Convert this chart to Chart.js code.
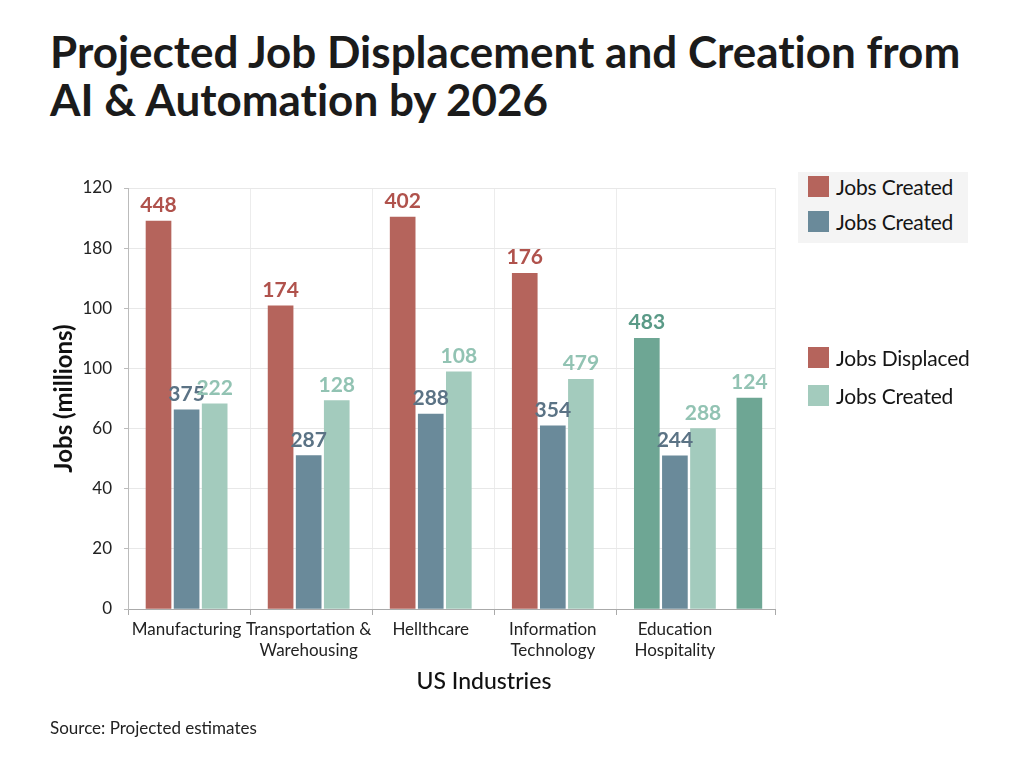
<!DOCTYPE html>
<html>
<head>
<meta charset="utf-8">
<script src="https://cdn.jsdelivr.net/npm/chart.js@4"></script>
<style>
  html, body { margin: 0; padding: 0; background: #fff; }
  body { width: 1024px; height: 768px; position: relative; overflow: hidden; font-family: Lato, "Noto Sans", sans-serif; color: #1a1a1a; }
  #chart { position: absolute; left: 0; top: 0; }
  h1 { position: absolute; left: 50px; top: 27px; margin: 0; font-size: 44px; line-height: 48px; font-weight: 700; color: #1b1b1b; white-space: nowrap; font-variant-ligatures: none; }
  .source { position: absolute; left: 50px; top: 717px; font-size: 17px; color: #222; }
  .xtitle { position: absolute; left: 384px; width: 200px; top: 666px; text-align: center; font-size: 23px; font-weight: 500; color: #111; }
  .legend { position: absolute; left: 798px; width: 170px; padding-left: 10px; box-sizing: border-box; white-space: nowrap; }
  .legend.boxed { background: #f4f4f4; top: 172px; height: 71px; }
  .legend.plain { top: 343px; width: 200px; }
  .item { height: 28px; margin-bottom: 10px; display: flex; align-items: center; font-size: 21px; color: #151515; letter-spacing: -0.2px; }
  .legend.boxed .item { margin-bottom: 7px; }
  .sw { width: 21px; height: 21px; margin-right: 7px; flex: none; }
</style>
</head>
<body>
<h1>Projected Job Displacement and Creation from<br>AI &amp; Automation by 2026</h1>
<canvas id="chart" width="1024" height="768"></canvas>
<div class="legend boxed">
  <div class="item"><span class="sw" style="background:#b5645c"></span>Jobs Created</div>
  <div class="item"><span class="sw" style="background:#6a8a9a"></span>Jobs Created</div>
</div>
<div class="legend plain">
  <div class="item"><span class="sw" style="background:#b5645c"></span>Jobs Displaced</div>
  <div class="item"><span class="sw" style="background:#a3cbbd"></span>Jobs Created</div>
</div>
<div class="xtitle">US Industries</div>
<div class="source">Source: Projected estimates</div>

<script>
// Catégories (axe X)
const categories = ['Manufacturing', ['Transportation &', 'Warehousing'], 'Hellthcare', ['Information', 'Technology'], ['Education', 'Hospitality']];

// Libellés de l'axe Y tels qu'affichés (0 -> 140 par pas de 20)
const yTickLabels = ['0', '20', '40', '60', '100', '100', '180', '120'];

// Valeurs (hauteur des barres, échelle 0-140)
const displaced     = [129.0, 100.8, 130.3, 111.6, 90.0];
const createdDark   = [66.2, 51.0, 64.8, 60.9, 50.9];
const createdLight  = [68.2, 69.3, 78.9, 76.4, 60.0];
const extraEdu      = [null, null, null, null, 70.1];

// Nombres écrits au-dessus des barres
const displacedText = ['448', '174', '402', '176', '483'];
const darkText      = ['375', '287', '288', '354', '244'];
const lightText     = ['222', '128', '108', '479', '288'];
const extraText     = ['', '', '', '', '124'];

const RED = '#b5645c', DARK = '#6a8a9a', LIGHT = '#a3cbbd', TEAL = '#6ea694';

// Position des barres dans chaque groupe (en unités de catégorie)
const groupMid = 0.48, slot = 0.23, extraOffset = 1.09;
const xMax = 5.3;

function points(values, offset) {
  return values.map((v, i) => v === null ? null : { x: i + groupMid + offset, y: v }).filter(p => p);
}

const datasets = [
  {
    data: points(displaced, -slot),
    backgroundColor: displaced.map((_, i) => i === 4 ? TEAL : RED),
    valueText: displacedText,
    textColor: displaced.map((_, i) => i === 4 ? '#5a9a87' : '#b0524c')
  },
  {
    data: points(createdDark, 0),
    backgroundColor: DARK,
    valueText: darkText,
    textColor: createdDark.map(() => '#5b7385')
  },
  {
    data: points(createdLight, slot),
    backgroundColor: LIGHT,
    valueText: lightText,
    textColor: createdLight.map(() => '#92c3b3')
  },
  {
    data: points(extraEdu, extraOffset - groupMid),
    backgroundColor: TEAL,
    valueText: extraText.filter(t => t),
    textColor: ['#92c3b3']
  }
];

// Position des libellés : centre des barres de chaque groupe
const labelPos = categories.map((_, i) => {
  const xs = datasets.flatMap(d => d.data.filter(p => Math.floor(p.x) === i).map(p => p.x));
  return xs.reduce((a, b) => a + b, 0) / xs.length;
});

// Nombres au-dessus des barres
const valueLabels = {
  id: 'valueLabels',
  afterDatasetsDraw(chart) {
    const ctx = chart.ctx;
    ctx.save();
    ctx.font = 'bold 21px Lato, "Noto Sans", sans-serif';
    ctx.textAlign = 'center';
    ctx.textBaseline = 'alphabetic';
    chart.data.datasets.forEach((ds, di) => {
      chart.getDatasetMeta(di).data.forEach((bar, j) => {
        ctx.fillStyle = ds.textColor[j];
        ctx.fillText(ds.valueText[j], bar.x, bar.y - 9);
      });
    });
    ctx.restore();
  }
};

new Chart(document.getElementById('chart'), {
  type: 'bar',
  data: { datasets },
  plugins: [valueLabels],
  options: {
    responsive: false,
    animation: false,
    layout: { padding: { left: 50, right: 249, top: 188, bottom: 55 } },
    datasets: { bar: { grouped: false, barThickness: 25, maxBarThickness: 25 } },
    plugins: { legend: { display: false }, tooltip: { enabled: false } },
    scales: {
      x: {
        type: 'linear',
        offset: false,
        min: 0,
        max: xMax,
        afterBuildTicks(scale) {
          const grid = [0, 1, 2, 3, 4, xMax].map(v => ({ value: v }));
          const labels = labelPos.map((v, i) => ({ value: v, isLabel: true, cat: i }));
          scale.ticks = grid.concat(labels);
        },
        afterFit(scale) { scale.height = 104; },
        ticks: {
          autoSkip: false,
          maxRotation: 0,
          padding: 4,
          color: '#222',
          font: { family: 'Lato', size: 17, lineHeight: 1.25 },
          callback(value, index, ticks) {
            const t = ticks[index];
            return t && t.isLabel ? categories[t.cat] : '';
          }
        },
        grid: {
          offset: false,
          tickLength: 6,
          color: ctx => (ctx.tick && ctx.tick.isLabel) ? 'rgba(0,0,0,0)' : '#ececec',
          tickColor: ctx => (ctx.tick && ctx.tick.isLabel) ? 'rgba(0,0,0,0)' : '#aaaaaa'
        },
        border: { color: '#aaaaaa' }
      },
      y: {
        min: 0,
        max: 140,
        afterFit(scale) { scale.width = 78; },
        ticks: {
          stepSize: 20,
          padding: 12,
          color: '#222',
          font: { family: 'Lato', size: 17 },
          callback: (value) => yTickLabels[Math.round(value / 20)]
        },
        grid: { color: '#e8e8e8', tickLength: 4, tickColor: '#bbbbbb' },
        border: { color: '#bbbbbb' },
        title: {
          display: true,
          text: 'Jobs (millions)',
          color: '#111',
          font: { family: 'Lato', size: 24, weight: 'bold' },
          padding: 0
        }
      }
    }
  }
});
</script>
</body>
</html>
